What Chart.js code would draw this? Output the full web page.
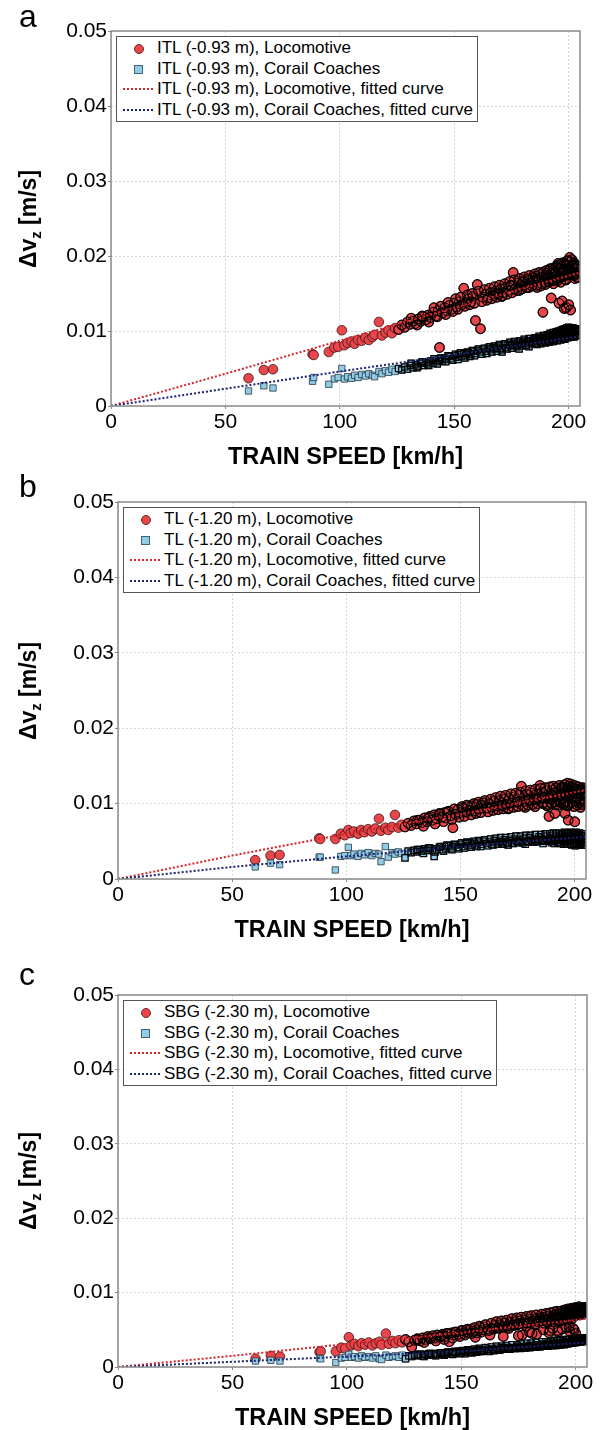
<!doctype html>
<html lang="en">
<head>
<meta charset="utf-8">
<title>Train speed vs delta v_z</title>
<script src="https://cdn.jsdelivr.net/npm/chart.js@4.4.0/dist/chart.umd.min.js"></script>
<style>
  body { margin: 0; background: #fff; font-family: "Liberation Sans", Arial, sans-serif; }
  #page { position: relative; width: 602px; height: 1430px; overflow: hidden; }
  canvas { position: absolute; left: 0; }
  .letter { position: absolute; left: 19px; font-size: 32px; line-height: 32px; color: #000; }
  .xtitle { position: absolute; width: 400px; text-align: center; font-weight: bold; font-size: 23.5px; line-height: 26px; }
  .ytitle { position: absolute; width: 240px; text-align: center; font-weight: bold; font-size: 23px; line-height: 26px; transform: rotate(-90deg); }
  .ytitle sub { font-size: 15px; vertical-align: -5px; line-height: 0; }
  .legend { position: absolute; background: #fff; border: 1px solid #555; padding: 1px 4px 1px 6px; font-size: 17px; white-space: nowrap; }
  .legend .row { height: 20.5px; line-height: 20.5px; display: flex; align-items: center; }
  .legend .sym { position: relative; width: 34px; height: 20px; flex: none; }
  .legend .dot { position: absolute; left: 11px; top: 6px; width: 8px; height: 8px; border-radius: 50%; background: #e8464b; border: 0.8px solid #6a2a2a; }
  .legend .sq { position: absolute; left: 11px; top: 6px; width: 7px; height: 7px; background: #92cbe6; border: 0.8px solid #3f6577; }
  .legend .ln { position: absolute; left: 0; top: 9px; width: 30px; height: 2px; }
</style>
</head>
<body>
<div id="page"></div>
<script>
// passages (train speed, km/h) shared by the three sensors
const speeds = [60.1, 66.8, 70.8, 88.1, 88.6, 95.2, 97.6, 99.3, 100.9, 102.0,
  103.4, 105.1, 106.5, 108.0, 109.6, 111.2, 112.7, 114.3, 115.2, 117.1,
  118.4, 120.0, 121.3, 122.8, 124.2, 125.7, 127.1, 128.4, 129.6, 130.8,
  132.0, 133.1, 134.3, 135.4, 136.6, 137.7, 138.5, 139.6, 140.8, 141.9,
  143.0, 143.6, 144.8, 145.9, 146.7, 147.8, 148.9, 150.0, 151.1, 152.2,
  153.3, 154.2, 155.2, 156.2, 157.3, 158.3, 159.3, 160.1, 161.5, 162.6,
  163.7, 164.8, 165.9, 167.0, 168.1, 169.2, 170.3, 171.4, 172.5, 173.6,
  174.7, 175.8, 176.7, 177.9, 179.0, 180.1, 181.0, 182.2, 183.3, 184.4,
  184.8, 185.6, 186.7, 187.5, 188.8, 189.4, 190.3, 190.9, 191.4, 192.0,
  192.4, 193.1, 193.7, 194.3, 194.9, 195.4, 195.8, 196.3, 196.9, 197.2,
  197.7, 198.1, 198.6, 199.0, 199.5, 199.9, 200.1, 200.5, 200.9, 201.3,
  201.7, 202.0, 202.4, 202.8, 203.1, 203.5, 203.9, 204.2, 204.5, 198.4,
  196.6, 195.1, 193.4, 191.7, 189.9, 187.9, 186.2, 182.7, 178.4, 170.9];
// second group of passages, mostly at high speed
const speeds2 = [131.2, 133.8, 136.0, 138.9, 141.2, 142.6, 144.1, 146.3, 147.3, 149.4,
  150.6, 151.7, 152.8, 154.7, 155.8, 156.8, 157.9, 158.9, 160.6, 162.1,
  163.2, 164.3, 165.4, 166.5, 167.6, 168.7, 169.8, 171.0, 172.1, 173.2,
  174.3, 175.3, 176.3, 177.4, 178.6, 179.6, 180.6, 181.6, 182.8, 183.9,
  185.2, 186.0, 187.1, 188.2, 189.1, 190.0, 190.6, 191.1, 191.9, 192.7,
  193.3, 193.9, 194.6, 195.2, 195.6, 196.1, 196.7, 197.0, 197.5, 197.9,
  198.3, 198.8, 199.2, 199.7, 200.0, 200.3, 200.7, 201.1, 201.5, 201.9,
  202.2, 202.6, 203.0, 203.3, 203.7, 204.0, 204.4, 199.4, 198.9, 197.4,
  196.0, 194.1, 192.2, 190.1, 188.4, 185.9, 183.0, 179.8, 175.0, 168.4];

// panel a - ITL
const aLoco = [.0037, .0048, .0049, .0069, .0068, .0072, .0078, .0079, .0101, .0081,
  .0084, .0086, .0083, .0088, .0087, .0091, .0088, .0092, .0095, .0112,
  .0094, .0098, .0101, .0097, .0104, .0102, .0108, .0105, .0112, .0109,
  .0113, .0110, .0116, .0113, .0119, .0115, .0121, .0118, .0125, .0120,
  .0127, .0078, .0124, .0131, .0127, .0134, .0129, .0137, .0132, .0139,
  .0135, .0157, .0138, .0143, .0139, .0146, .0114, .0162, .0103, .0145,
  .0149, .0144, .0151, .0147, .0153, .0149, .0156, .0151, .0158, .0154,
  .0161, .0178, .0156, .0164, .0160, .0167, .0162, .0169, .0164, .0171,
  .0166, .0173, .0168, .0175, .0125, .0170, .0177, .0172, .0180, .0169,
  .0144, .0176, .0182, .0173, .0185, .0190, .0137, .0178, .0186, .0140,
  .0181, .0130, .0188, .0131, .0176, .0184, .0135, .0198, .0128, .0180,
  .0187, .0175, .0191, .0170, .0183, .0177, .0186, .0172, .0179, .0169,
  .0165, .0167, .0163, .0166, .0162, .0160, .0158, .0158, .0154, .0146];
const aLoco2 = [.0117, .0108, .0120, .0112, .0131, .0119, .0133, .0122, .0138, .0126,
  .0143, .0129, .0145, .0133, .0148, .0135, .0150, .0137, .0153, .0139,
  .0155, .0141, .0157, .0143, .0159, .0145, .0161, .0147, .0163, .0149,
  .0166, .0151, .0168, .0154, .0170, .0156, .0172, .0158, .0174, .0160,
  .0176, .0161, .0178, .0163, .0179, .0165, .0181, .0166, .0183, .0167,
  .0184, .0168, .0186, .0170, .0188, .0171, .0189, .0172, .0191, .0173,
  .0190, .0174, .0193, .0175, .0194, .0177, .0192, .0176, .0195, .0178,
  .0190, .0174, .0188, .0176, .0186, .0171, .0183, .0183, .0168, .0180,
  .0183, .0178, .0176, .0174, .0172, .0170, .0168, .0165, .0160, .0150];
const aCoach = [.0020, .0027, .0024, .0033, .0038, .0029, .0036, .0038, .0050, .0036,
  .0039, .0037, .0041, .0038, .0042, .0040, .0043, .0041, .0039, .0046,
  .0043, .0047, .0045, .0049, .0046, .0050, .0048, .0052, .0049, .0054,
  .0051, .0055, .0053, .0057, .0054, .0058, .0056, .0060, .0057, .0061,
  .0059, .0063, .0060, .0064, .0062, .0066, .0063, .0067, .0065, .0069,
  .0066, .0070, .0068, .0071, .0069, .0073, .0070, .0074, .0072, .0076,
  .0073, .0077, .0075, .0078, .0076, .0080, .0077, .0081, .0078, .0082,
  .0080, .0083, .0081, .0085, .0082, .0086, .0083, .0087, .0085, .0088,
  .0086, .0090, .0087, .0091, .0088, .0092, .0089, .0093, .0090, .0094,
  .0091, .0095, .0092, .0096, .0093, .0098, .0094, .0099, .0095, .0100,
  .0096, .0102, .0097, .0101, .0093, .0104, .0098, .0103, .0095, .0101,
  .0097, .0104, .0092, .0100, .0096, .0102, .0094, .0099, .0097, .0089,
  .0088, .0087, .0086, .0085, .0084, .0083, .0082, .0079, .0076, .0072];
const aCoach2 = [.0057, .0051, .0059, .0054, .0063, .0056, .0064, .0059, .0067, .0061,
  .0069, .0062, .0071, .0064, .0072, .0066, .0074, .0067, .0076, .0069,
  .0077, .0070, .0079, .0072, .0080, .0073, .0082, .0075, .0083, .0076,
  .0085, .0077, .0086, .0079, .0087, .0080, .0089, .0081, .0090, .0083,
  .0091, .0084, .0093, .0085, .0094, .0086, .0095, .0087, .0097, .0088,
  .0098, .0089, .0099, .0090, .0100, .0091, .0101, .0092, .0102, .0090,
  .0103, .0093, .0104, .0091, .0105, .0094, .0103, .0092, .0104, .0095,
  .0102, .0093, .0101, .0096, .0103, .0094, .0100, .0097, .0099, .0096,
  .0097, .0094, .0093, .0091, .0090, .0088, .0086, .0084, .0081, .0077];

// panel b - TL
const bLoco = [.0025, .0031, .0032, .0054, .0053, .0053, .0060, .0058, .0065, .0061,
  .0063, .0060, .0065, .0062, .0066, .0063, .0067, .0080, .0064, .0068,
  .0065, .0069, .0085, .0068, .0072, .0069, .0074, .0071, .0077, .0073,
  .0078, .0075, .0081, .0076, .0083, .0078, .0085, .0080, .0087, .0082,
  .0088, .0081, .0090, .0084, .0068, .0086, .0092, .0088, .0094, .0089,
  .0096, .0091, .0097, .0090, .0099, .0093, .0098, .0101, .0094, .0100,
  .0095, .0103, .0097, .0104, .0098, .0106, .0099, .0107, .0101, .0109,
  .0102, .0111, .0123, .0103, .0112, .0104, .0114, .0105, .0113, .0106,
  .0124, .0115, .0107, .0117, .0083, .0108, .0118, .0109, .0087, .0116,
  .0106, .0119, .0110, .0120, .0107, .0121, .0087, .0112, .0127, .0078,
  .0118, .0111, .0122, .0109, .0116, .0120, .0076, .0113, .0119, .0108,
  .0122, .0114, .0103, .0118, .0111, .0121, .0106, .0115, .0102, .0112,
  .0098, .0101, .0104, .0099, .0101, .0097, .0100, .0096, .0095, .0093];
const bLoco2 = [.0078, .0070, .0081, .0073, .0086, .0076, .0089, .0079, .0093, .0082,
  .0096, .0083, .0098, .0085, .0100, .0087, .0102, .0088, .0104, .0089,
  .0106, .0091, .0108, .0092, .0110, .0093, .0111, .0094, .0113, .0095,
  .0114, .0096, .0115, .0097, .0117, .0098, .0118, .0099, .0119, .0100,
  .0120, .0101, .0121, .0099, .0122, .0100, .0123, .0102, .0121, .0098,
  .0124, .0101, .0122, .0099, .0125, .0103, .0120, .0097, .0123, .0100,
  .0126, .0102, .0121, .0096, .0124, .0104, .0119, .0098, .0122, .0101,
  .0118, .0095, .0120, .0099, .0116, .0102, .0113, .0110, .0113, .0108,
  .0111, .0112, .0109, .0111, .0107, .0108, .0106, .0105, .0102, .0097];
const bCoach = [.0016, .0021, .0019, .0029, .0029, .0012, .0030, .0031, .0042, .0031,
  .0033, .0030, .0034, .0032, .0035, .0031, .0034, .0033, .0023, .0043,
  .0029, .0035, .0033, .0036, .0034, .0028, .0037, .0035, .0038, .0036,
  .0039, .0037, .0040, .0038, .0041, .0038, .0030, .0040, .0042, .0039,
  .0043, .0040, .0044, .0041, .0043, .0045, .0042, .0046, .0043, .0047,
  .0044, .0048, .0045, .0047, .0044, .0049, .0046, .0050, .0047, .0049,
  .0046, .0051, .0048, .0050, .0047, .0052, .0049, .0051, .0048, .0053,
  .0050, .0052, .0049, .0054, .0050, .0055, .0051, .0053, .0050, .0056,
  .0052, .0054, .0051, .0057, .0052, .0055, .0050, .0058, .0053, .0056,
  .0051, .0057, .0054, .0059, .0052, .0056, .0049, .0058, .0053, .0060,
  .0051, .0057, .0054, .0061, .0048, .0056, .0052, .0059, .0047, .0055,
  .0050, .0058, .0046, .0054, .0049, .0057, .0045, .0053, .0050, .0052,
  .0050, .0052, .0049, .0051, .0048, .0050, .0047, .0049, .0046, .0045];
const bCoach2 = [.0039, .0034, .0041, .0036, .0043, .0037, .0045, .0039, .0046, .0040,
  .0048, .0041, .0049, .0042, .0050, .0043, .0051, .0043, .0052, .0044,
  .0053, .0045, .0054, .0046, .0055, .0046, .0055, .0047, .0056, .0047,
  .0057, .0048, .0057, .0048, .0058, .0049, .0058, .0049, .0059, .0050,
  .0059, .0050, .0060, .0051, .0060, .0051, .0061, .0047, .0060, .0048,
  .0061, .0047, .0060, .0046, .0062, .0048, .0061, .0046, .0060, .0047,
  .0062, .0045, .0061, .0046, .0060, .0044, .0062, .0046, .0059, .0045,
  .0061, .0047, .0058, .0045, .0060, .0048, .0057, .0053, .0054, .0052,
  .0054, .0053, .0052, .0053, .0052, .0051, .0052, .0050, .0050, .0049];

// panel c - SBG
const cLoco = [.0011, .0015, .0014, .0020, .0021, .0021, .0026, .0025, .0040, .0029,
  .0031, .0028, .0032, .0030, .0033, .0029, .0032, .0034, .0030, .0045,
  .0031, .0035, .0032, .0036, .0033, .0037, .0034, .0027, .0036, .0038,
  .0035, .0039, .0037, .0041, .0038, .0042, .0039, .0043, .0040, .0044,
  .0041, .0045, .0034, .0046, .0043, .0047, .0044, .0049, .0045, .0050,
  .0046, .0051, .0048, .0040, .0049, .0053, .0050, .0054, .0051, .0043,
  .0052, .0056, .0053, .0057, .0054, .0059, .0055, .0060, .0056, .0061,
  .0057, .0062, .0043, .0063, .0059, .0064, .0045, .0065, .0061, .0066,
  .0062, .0067, .0063, .0068, .0049, .0064, .0069, .0065, .0070, .0066,
  .0047, .0071, .0067, .0072, .0068, .0073, .0069, .0074, .0070, .0054,
  .0075, .0068, .0076, .0071, .0074, .0069, .0045, .0077, .0072, .0075,
  .0070, .0078, .0073, .0076, .0071, .0079, .0074, .0080, .0075, .0065,
  .0063, .0064, .0062, .0063, .0061, .0060, .0059, .0058, .0055, .0052];
const cLoco2 = [.0037, .0033, .0039, .0035, .0042, .0037, .0045, .0039, .0047, .0041,
  .0049, .0043, .0051, .0045, .0053, .0046, .0055, .0047, .0057, .0049,
  .0059, .0051, .0061, .0052, .0062, .0054, .0063, .0055, .0065, .0056,
  .0066, .0058, .0067, .0059, .0068, .0060, .0069, .0062, .0070, .0063,
  .0071, .0064, .0072, .0065, .0073, .0066, .0074, .0067, .0075, .0068,
  .0075, .0069, .0076, .0070, .0077, .0070, .0078, .0071, .0077, .0072,
  .0079, .0071, .0078, .0073, .0080, .0072, .0079, .0074, .0081, .0073,
  .0079, .0075, .0080, .0074, .0078, .0076, .0077, .0050, .0052, .0048,
  .0053, .0051, .0049, .0052, .0046, .0050, .0044, .0047, .0042, .0041];
const cCoach = [.0008, .0009, .0008, .0012, .0011, .0006, .0012, .0013, .0017, .0013,
  .0014, .0012, .0015, .0013, .0014, .0012, .0015, .0011, .0010, .0016,
  .0013, .0014, .0015, .0013, .0016, .0011, .0015, .0014, .0016, .0015,
  .0017, .0015, .0017, .0016, .0018, .0016, .0018, .0017, .0019, .0017,
  .0019, .0018, .0020, .0018, .0020, .0019, .0021, .0019, .0021, .0020,
  .0022, .0020, .0022, .0021, .0023, .0021, .0023, .0022, .0024, .0022,
  .0024, .0023, .0025, .0023, .0025, .0024, .0026, .0024, .0026, .0025,
  .0027, .0025, .0027, .0026, .0028, .0026, .0028, .0027, .0029, .0027,
  .0029, .0028, .0030, .0028, .0030, .0029, .0031, .0029, .0031, .0030,
  .0032, .0030, .0032, .0031, .0033, .0031, .0033, .0032, .0034, .0032,
  .0034, .0033, .0035, .0033, .0035, .0034, .0036, .0034, .0036, .0035,
  .0037, .0035, .0036, .0034, .0037, .0035, .0038, .0036, .0039, .0032,
  .0031, .0030, .0030, .0029, .0029, .0028, .0028, .0027, .0026, .0024];
const cCoach2 = [.0017, .0014, .0018, .0015, .0019, .0016, .0020, .0017, .0021, .0018,
  .0022, .0018, .0023, .0019, .0024, .0020, .0025, .0021, .0026, .0021,
  .0027, .0022, .0028, .0023, .0028, .0024, .0029, .0024, .0030, .0025,
  .0030, .0026, .0031, .0026, .0032, .0027, .0032, .0028, .0033, .0028,
  .0034, .0029, .0034, .0029, .0035, .0030, .0035, .0030, .0036, .0031,
  .0036, .0031, .0036, .0031, .0037, .0032, .0037, .0032, .0037, .0033,
  .0038, .0032, .0038, .0033, .0038, .0033, .0039, .0034, .0038, .0034,
  .0039, .0034, .0038, .0035, .0039, .0035, .0038, .0035, .0035, .0034,
  .0034, .0033, .0033, .0032, .0032, .0031, .0030, .0029, .0028, .0026];

// fitted curves, read at a few speeds
const fitSpeeds = [0, 50, 100, 150, 205];
const aLocoFit = [0, .0043, .0087, .0131, .0178];
const aCoachFit = [0, .0023, .0046, .0068, .0093];
const bLocoFit = [0, .0031, .0060, .0086, .0118];
const bCoachFit = [0, .0016, .0030, .0043, .0056];
const cLocoFit = [0, .0015, .0031, .0046, .0065];
const cCoachFit = [0, .0007, .0014, .0021, .0033];

const sensors = ["ITL (-0.93 m)", "TL (-1.20 m)", "SBG (-2.30 m)"];
const seriesNames = ["Locomotive", "Corail Coaches", "Locomotive, fitted curve", "Corail Coaches, fitted curve"];
const xTicks = [0, 50, 100, 150, 200];

const RED = "#e8464b", BLUE = "#92cbe6", REDLINE = "#d8232a", NAVY = "#1c2270";
const FONT = "'Liberation Sans', Arial, sans-serif";

function pts(xs, ys) {
  return ys.map((v, i) => ({ x: xs[i], y: v }));
}

// edges redrawn over the crowded cloud so it turns dark as in the original
function cloudEdge(ctx) {
  const v = ctx.raw;
  return v && v.x > 125 ? "rgba(0,0,0,0.9)" : "rgba(0,0,0,0)";
}

const frame = {
  id: "frame",
  afterDraw(chart) {
    const { ctx, chartArea: a } = chart;
    ctx.save();
    ctx.strokeStyle = "#8a8a8a";
    ctx.lineWidth = 1.5;
    ctx.strokeRect(a.left, a.top, a.right - a.left, a.bottom - a.top);
    ctx.restore();
  }
};

const panels = [
  { top: 0, height: 480, l: 111, r: 580, t: 31, b: 406, letterBase: 27, letter: "a",
    loco: [aLoco, aLoco2], coach: [aCoach, aCoach2], locoFit: aLocoFit, coachFit: aCoachFit },
  { top: 480, height: 480, l: 118, r: 586, t: 502, b: 879, letterBase: 497, letter: "b",
    loco: [bLoco, bLoco2], coach: [bCoach, bCoach2], locoFit: bLocoFit, coachFit: bCoachFit },
  { top: 960, height: 470, l: 118, r: 587, t: 995, b: 1367, letterBase: 985, letter: "c",
    loco: [cLoco, cLoco2], coach: [cCoach, cCoach2], locoFit: cLocoFit, coachFit: cCoachFit }
];

const page = document.getElementById("page");

function addDiv(cls, html, css) {
  const d = document.createElement("div");
  d.className = cls;
  d.innerHTML = html;
  Object.assign(d.style, css);
  page.appendChild(d);
  return d;
}

panels.forEach((p, k) => {
  const cv = document.createElement("canvas");
  cv.width = 602;
  cv.height = p.height;
  cv.style.top = p.top + "px";
  page.appendChild(cv);

  const t = p.t - p.top, b = p.b - p.top;
  const sensor = sensors[k];
  const locoPts = pts(speeds, p.loco[0]).concat(pts(speeds2, p.loco[1]));
  const coachPts = pts(speeds, p.coach[0]).concat(pts(speeds2, p.coach[1]));

  new Chart(cv, {
    type: "scatter",
    data: {
      datasets: [
        { label: sensor + ", " + seriesNames[3], data: pts(fitSpeeds, p.coachFit), showLine: true,
          borderColor: NAVY, borderWidth: 2, borderDash: [2, 2], pointRadius: 0, order: 0 },
        { label: sensor + ", " + seriesNames[2], data: pts(fitSpeeds, p.locoFit), showLine: true,
          borderColor: REDLINE, borderWidth: 2, borderDash: [2, 2], pointRadius: 0, order: 1 },
        { label: "coach edges", data: coachPts, pointStyle: "rect", pointRadius: 4.5,
          backgroundColor: "rgba(0,0,0,0)", pointBorderColor: cloudEdge, pointBorderWidth: 1.2, order: 2 },
        { label: sensor + ", " + seriesNames[1], data: coachPts, pointStyle: "rect",
          pointRadius: 4.5, backgroundColor: BLUE, borderColor: "rgba(30,50,60,0.85)", borderWidth: 0.9, order: 3 },
        { label: "loco edges", data: locoPts, pointStyle: "circle", pointRadius: 4.8,
          backgroundColor: "rgba(0,0,0,0)", pointBorderColor: cloudEdge, pointBorderWidth: 1.2, order: 4 },
        { label: sensor + ", " + seriesNames[0], data: locoPts, pointStyle: "circle",
          pointRadius: 4.8, backgroundColor: RED, borderColor: "rgba(50,15,15,0.85)", borderWidth: 0.9, order: 5 }
      ]
    },
    options: {
      responsive: false,
      animation: false,
      events: [],
      layout: { padding: { left: 0, right: 602 - p.r, top: t, bottom: 0 } },
      plugins: { legend: { display: false }, tooltip: { enabled: false } },
      scales: {
        x: {
          type: "linear", min: 0, max: 205,
          afterFit: s => { s.height = p.height - b; },
          afterBuildTicks: s => { s.ticks = xTicks.map(v => ({ value: v })); },
          ticks: { font: { family: FONT, size: 21 }, color: "#000", padding: 1, maxRotation: 0 },
          grid: { color: "#d4d4d4", lineWidth: 1, tickLength: 3, tickColor: "#8a8a8a" },
          border: { display: false, dash: [2, 2] }
        },
        y: {
          min: 0, max: 0.05,
          afterFit: s => { s.width = p.l; },
          ticks: { stepSize: 0.01, font: { family: FONT, size: 21 }, color: "#000", padding: 1 },
          grid: { color: "#d4d4d4", lineWidth: 1, tickLength: 3, tickColor: "#8a8a8a" },
          border: { display: false, dash: [2, 2] }
        }
      }
    },
    plugins: [frame]
  });

  // panel letter
  addDiv("letter", p.letter, { top: (p.letterBase - 27) + "px" });

  // axis titles
  const cx = (p.l + p.r) / 2, cy = (p.t + p.b) / 2;
  addDiv("xtitle", "TRAIN SPEED [km/h]", { left: (cx - 200) + "px", top: (p.b + 50 - 13) + "px" });
  addDiv("ytitle", "&Delta;v<sub>z</sub> [m/s]", { left: (28 - 120) + "px", top: (cy - 13) + "px" });

  // legend
  const lg = addDiv("legend", "", { left: (p.l + 5) + "px", top: (p.t + 5) + "px" });
  seriesNames.forEach((name, i) => {
    let sym;
    if (i === 0) sym = '<i class="dot"></i>';
    else if (i === 1) sym = '<i class="sq"></i>';
    else {
      const c = i === 2 ? REDLINE : NAVY;
      sym = '<i class="ln" style="background:repeating-linear-gradient(to right,' + c + ' 0 2px,transparent 2px 4px)"></i>';
    }
    const row = document.createElement("div");
    row.className = "row";
    row.innerHTML = '<span class="sym">' + sym + "</span><span>" + sensor + ", " + name + "</span>";
    lg.appendChild(row);
  });
});
</script>
</body>
</html>
